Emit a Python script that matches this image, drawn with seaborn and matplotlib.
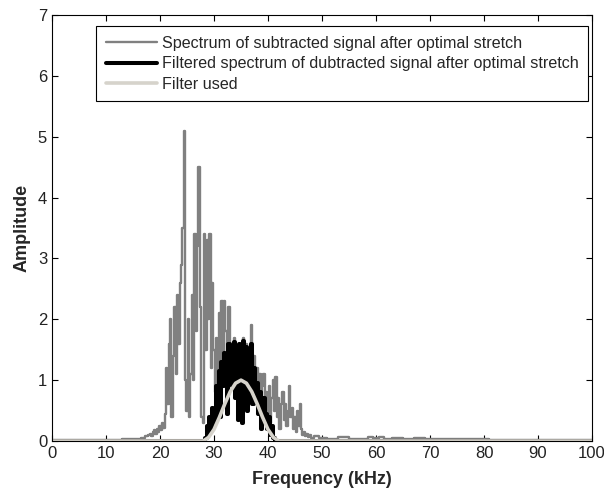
import numpy as np
import pandas as pd
import matplotlib
matplotlib.use("Agg")
import matplotlib.pyplot as plt
import seaborn as sns

# ---------------- data ----------------
# gray spectrum: low tail, dense middle part (0.25 kHz grid), high tail
tail_lo_freq = [0, 2, 4, 6, 8, 10, 12, 14, 15, 16, 17, 17.5]
tail_lo_amp = [0.02, 0.02, 0.02, 0.02, 0.02, 0.02, 0.02, 0.03, 0.03, 0.04, 0.05, 0.08]

mid_freq = list(np.arange(18.0, 48.01, 0.25))
mid_amp = [
    0.10, 0.12, 0.08, 0.15,
    0.18, 0.12, 0.20, 0.15,
    0.25, 0.18, 0.30, 0.22,
    0.45, 1.20, 0.60, 1.60,
    2.00, 0.40, 1.40, 2.20,
    1.10, 2.40, 1.60, 2.60,
    2.90, 3.50, 5.10, 1.00,
    0.50, 2.00, 0.40, 1.10,
    2.40, 1.00, 3.40, 1.80,
    3.20, 4.50, 2.20, 0.40,
    0.30, 3.40, 1.50, 3.30,
    2.00, 3.40, 1.20, 2.60,
    1.50, 0.80, 1.70, 1.10,
    2.10, 0.60, 2.30, 1.40,
    2.30, 1.80, 0.50, 2.20,
    1.20, 1.60, 1.00, 1.70,
    0.80, 1.50, 0.40, 1.60,
    1.10, 0.30, 1.70, 0.90,
    1.60, 0.50, 1.50, 1.00,
    1.90, 0.70, 1.40, 0.80,
    1.20, 0.60, 1.10, 0.30,
    0.90, 1.10, 0.50, 0.80,
    0.40, 0.90, 0.30, 0.70,
    1.00, 0.50, 1.05, 0.40,
    0.70, 0.20, 0.60, 0.80,
    0.35, 0.60, 0.25, 0.50,
    0.90, 0.40, 0.55, 0.20,
    0.40, 0.15, 0.50, 0.25,
    0.60, 0.20, 0.10, 0.15,
    0.08, 0.12, 0.06, 0.10,
    0.05,
]

tail_hi_freq = [49, 50, 52, 54, 56, 58, 59, 60, 61, 62, 64, 66, 68, 70, 72, 74, 76, 78, 80, 82, 85, 90, 95, 100]
tail_hi_amp = [0.08, 0.05, 0.04, 0.06, 0.04, 0.03, 0.07, 0.05, 0.06, 0.04, 0.05, 0.04, 0.05, 0.03, 0.04, 0.03, 0.04, 0.03, 0.03, 0.02, 0.02, 0.02, 0.02, 0.02]

# black filtered spectrum
filt_spec_freq = [0, 28.0, 28.5] + list(np.arange(28.75, 41.01, 0.25)) + [41.5, 100]
filt_spec_amp = [0.0, 0.0, 0.05,
                 0.25,
                 0.15, 0.40, 0.20, 0.55,
                 0.50, 0.30, 0.90, 0.60,
                 1.15, 0.40, 1.30, 0.90,
                 1.45, 1.00, 0.45, 1.60,
                 1.10, 1.55, 0.90, 1.62,
                 0.70, 1.50, 0.35, 1.60,
                 1.05, 0.30, 1.65, 0.85,
                 1.55, 0.50, 1.45, 0.95,
                 1.60, 0.60, 1.20, 0.70,
                 0.95, 0.45, 0.80, 0.20,
                 0.60, 0.70, 0.30, 0.45,
                 0.20, 0.40, 0.10, 0.25,
                 0.05,
                 0.0, 0.0]

# filter used
filter_freq = [0, 28, 29, 30, 31, 32, 33, 34, 35, 36, 37, 38, 39, 40, 41, 42, 100]
filter_amp = [0, 0, 0.06, 0.19, 0.39, 0.61, 0.81, 0.95, 1.0, 0.95, 0.81, 0.61, 0.39, 0.19, 0.06, 0, 0]

labels = ["Spectrum of subtracted signal after optimal stretch",
          "Filtered spectrum of dubtracted signal after optimal stretch",
          "Filter used"]

x_ticks = list(range(0, 101, 10))
y_ticks = list(range(0, 8))

# ---------------- plot ----------------
sns.set_theme(style="white")
plt.rcParams["font.family"] = ["Liberation Sans", "DejaVu Sans"]
plt.rcParams["xtick.direction"] = "in"
plt.rcParams["ytick.direction"] = "in"

W, H = 604, 488
fig = plt.figure(figsize=(W / 100, H / 100), dpi=100)
ax = fig.add_axes([52 / W, 1 - 441 / H, 540 / W, 426 / H])

gray_freq = tail_lo_freq + mid_freq + tail_hi_freq
gray_amp = tail_lo_amp + mid_amp + tail_hi_amp

sns.lineplot(x=gray_freq, y=gray_amp, ax=ax, color="#808080", linewidth=1.7,
             sort=False, estimator=None, label=labels[0], drawstyle="steps-mid")
sns.lineplot(x=filt_spec_freq, y=filt_spec_amp, ax=ax, color="black", linewidth=2.9,
             sort=False, estimator=None, label=labels[1], drawstyle="steps-mid")
sns.lineplot(x=filter_freq, y=filter_amp, ax=ax, color="#d6d3cb", linewidth=2.6,
             sort=False, estimator=None, label=labels[2])

ax.set_xlim(0, 100)
ax.set_ylim(0, 7)
ax.set_xticks(x_ticks)
ax.set_yticks(y_ticks)
ax.set_xticklabels([str(v) for v in x_ticks])
ax.set_yticklabels([str(v) for v in y_ticks])
ax.tick_params(axis="both", which="both", direction="in", top=True, right=True,
               bottom=True, left=True, length=4, width=0.8, color="black",
               labelsize=12, pad=3.5, labelcolor="#222222")
for s in ax.spines.values():
    s.set_color("black")
    s.set_linewidth(0.8)
ax.set_xlabel("Frequency (kHz)", fontsize=13, fontweight="bold", labelpad=7)
ax.set_ylabel("Amplitude", fontsize=13, fontweight="bold", labelpad=5)

leg = ax.legend(loc="upper left", bbox_to_anchor=(96 / W, 1 - 26 / H),
                bbox_transform=fig.transFigure, fontsize=11.65, frameon=True,
                fancybox=False, edgecolor="black", framealpha=1, borderaxespad=0,
                handlelength=3.2, handletextpad=0.25, labelspacing=0.34,
                borderpad=0.6)
leg.get_frame().set_linewidth(0.8)

fig.savefig("out.png", dpi=100)
